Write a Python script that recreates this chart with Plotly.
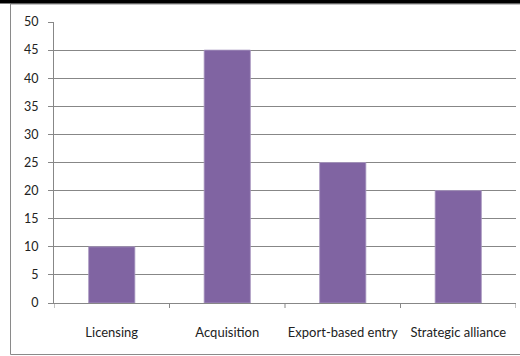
import plotly.graph_objects as go

categories = ["Licensing", "Acquisition", "Export-based entry", "Strategic alliance"]
values = [10, 45, 25, 20]
y_ticks = [0, 5, 10, 15, 20, 25, 30, 35, 40, 45, 50]

grid = "#878787"
font = "Lato, Calibri, sans-serif"

# figure-pixel helpers for the paper frame
PL, PT, PW, PH = 54, 22, 462, 281
def px(x):
    return (x - PL) / PW
def py(y):
    return (PT + PH - y) / PH

fig = go.Figure()
fig.add_trace(go.Bar(
    x=categories, y=values, width=0.4,
    marker=dict(color="#8064A2", line=dict(color="#A898C0", width=0.8)),
))

shapes = []
for i in range(len(categories) + 1):
    shapes.append(dict(type="line", xref="x", yref="paper",
                       x0=i - 0.5, x1=i - 0.5, y0=0, y1=-5 / PH,
                       line=dict(color=grid, width=1)))
# outer chart border
shapes.append(dict(type="rect", xref="paper", yref="paper",
                   x0=px(10.5), x1=px(540), y0=py(354.5), y1=py(4),
                   line=dict(color="#8a8a8a", width=1), fillcolor="rgba(0,0,0,0)"))
# top black band
shapes.append(dict(type="rect", xref="paper", yref="paper",
                   x0=px(-5), x1=px(530), y0=py(3.5), y1=py(-5),
                   fillcolor="black", line=dict(width=0), layer="above"))

fig.update_layout(
    width=520, height=356,
    margin=dict(l=PL, r=520 - PL - PW, t=PT, b=356 - PT - PH),
    paper_bgcolor="white", plot_bgcolor="white",
    showlegend=False,
    font=dict(family=font, size=12, color="#222222"),
    shapes=shapes,
    xaxis=dict(
        type="category", range=[-0.5, 3.5],
        showline=True, linecolor=grid, linewidth=1,
        ticks="", showgrid=False, ticklabelstandoff=17,
        tickfont=dict(family=font, size=13, color="#222222"),
        fixedrange=True,
    ),
    yaxis=dict(
        range=[0, 50], tickvals=y_ticks,
        showline=True, linecolor=grid, linewidth=1,
        ticks="outside", ticklen=5, tickcolor=grid,
        showgrid=True, gridcolor=grid, gridwidth=1,
        zeroline=False, ticklabelstandoff=7,
        tickfont=dict(family=font, size=12.5, color="#222222"),
        fixedrange=True,
    ),
)

fig.write_html("out.html")
